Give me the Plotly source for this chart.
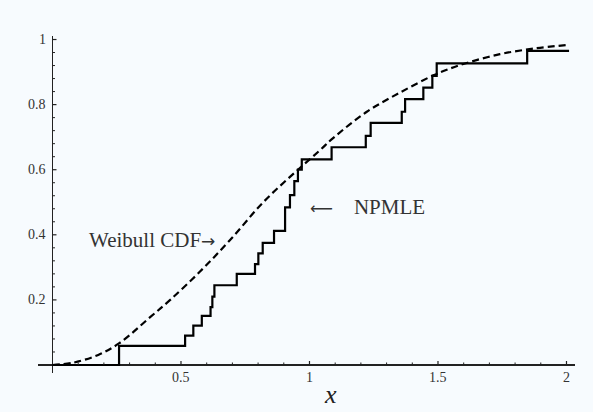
import plotly.graph_objects as go

# NPMLE step function: jump locations and level after each jump
npmle_x = [0.0, 0.259, 0.516, 0.548, 0.581, 0.615, 0.622, 0.630, 0.717, 0.788, 0.801,
           0.818, 0.862, 0.905, 0.924, 0.941, 0.955, 0.970, 1.086, 1.219, 1.238,
           1.359, 1.372, 1.443, 1.478, 1.495, 1.847, 2.01]
npmle_y = [0.0, 0.059, 0.090, 0.121, 0.151, 0.178, 0.210, 0.245, 0.280, 0.310, 0.343,
           0.375, 0.412, 0.484, 0.522, 0.565, 0.600, 0.632, 0.669, 0.704, 0.744,
           0.778, 0.817, 0.852, 0.888, 0.927, 0.965, 0.965]

# Weibull CDF
weib_x = [0.0, 0.08, 0.178, 0.26, 0.38, 0.458, 0.574, 0.691, 0.82, 0.955, 1.041,
          1.093, 1.223, 1.352, 1.482, 1.534, 1.612, 1.741, 1.871, 2.0]
weib_y = [0.0, 0.007, 0.031, 0.067, 0.147, 0.200, 0.287, 0.384, 0.50, 0.600, 0.660,
          0.698, 0.778, 0.837, 0.890, 0.907, 0.928, 0.955, 0.972, 0.983]

x_major = [0.5, 1, 1.5, 2]
x_major_labels = ["0.5", "1", "1.5", "2"]
x_minor = [0.1, 0.2, 0.3, 0.4, 0.6, 0.7, 0.8, 0.9, 1.1, 1.2, 1.3, 1.4,
           1.6, 1.7, 1.8, 1.9]
y_major = [0.2, 0.4, 0.6, 0.8, 1.0]
y_major_labels = ["0.2", "0.4", "0.6", "0.8", "1"]
y_minor = [0.04, 0.08, 0.12, 0.16, 0.24, 0.28, 0.32, 0.36, 0.44, 0.48, 0.52, 0.56,
           0.64, 0.68, 0.72, 0.76, 0.84, 0.88, 0.92, 0.96]

BG = "#f7fbfe"
AX = "#222222"
FONT = "Liberation Serif"

fig = go.Figure()
fig.add_trace(go.Scatter(x=weib_x, y=weib_y, mode="lines", line_shape="spline",
                         line=dict(color="black", width=2.2, dash="7px,4px"),
                         showlegend=False, hoverinfo="skip"))
fig.add_trace(go.Scatter(x=npmle_x, y=npmle_y, mode="lines", line_shape="hv",
                         line=dict(color="black", width=2.2),
                         showlegend=False, hoverinfo="skip"))

shapes = []
for tv in x_major:
    shapes.append(dict(type="line", xref="x", yref="y", x0=tv, x1=tv,
                       ysizemode="pixel", yanchor=0, y0=0, y1=4,
                       line=dict(color=AX, width=1.2)))
for tv in x_minor:
    shapes.append(dict(type="line", xref="x", yref="y", x0=tv, x1=tv,
                       ysizemode="pixel", yanchor=0, y0=0, y1=2.5,
                       line=dict(color=AX, width=1)))
for tv in y_major:
    shapes.append(dict(type="line", xref="x", yref="y", y0=tv, y1=tv,
                       xsizemode="pixel", xanchor=0, x0=0, x1=4,
                       line=dict(color=AX, width=1.2)))
for tv in y_minor:
    shapes.append(dict(type="line", xref="x", yref="y", y0=tv, y1=tv,
                       xsizemode="pixel", xanchor=0, x0=0, x1=2.5,
                       line=dict(color=AX, width=1)))

annotations = []
for tv, lab in zip(x_major, x_major_labels):
    annotations.append(dict(x=tv, y=0, xref="x", yref="y", text=lab, showarrow=False,
                            xanchor="center", yanchor="top", yshift=-3,
                            font=dict(family=FONT, size=14, color="#333")))
for tv, lab in zip(y_major, y_major_labels):
    annotations.append(dict(x=0, y=tv, xref="x", yref="y", text=lab, showarrow=False,
                            xanchor="right", yanchor="middle", xshift=-4,
                            font=dict(family=FONT, size=14, color="#333")))
annotations.append(dict(x=1.08, y=0, xref="x", yref="y", text="<i>x</i>", showarrow=False,
                        xanchor="center", yanchor="top", yshift=-13,
                        font=dict(family=FONT, size=26, color="#222")))
annotations.append(dict(x=0.64, y=0.384, xref="x", yref="y",
                        text="Weibull CDF<span style='font-family:DejaVu Sans;font-size:17px'>\u2192</span>",
                        showarrow=False, xanchor="right", yanchor="middle",
                        font=dict(family=FONT, size=21, color="#333")))
annotations.append(dict(x=0.995, y=0.485, xref="x", yref="y",
                        text="<span style='font-family:DejaVu Sans;font-size:16px'>\u27f5</span>&nbsp;&nbsp;&nbsp;&nbsp;NPMLE",
                        showarrow=False, xanchor="left", yanchor="middle",
                        font=dict(family=FONT, size=21, color="#333")))

fig.update_layout(
    width=593, height=412,
    margin=dict(l=38, r=18, t=36, b=39),
    paper_bgcolor=BG, plot_bgcolor=BG,
    hovermode=False,
    shapes=shapes, annotations=annotations,
    xaxis=dict(range=[-0.0564, 2.0331], showgrid=False, showticklabels=False,
               ticks="", showline=False, zeroline=True, zerolinecolor=AX,
               zerolinewidth=1.5, fixedrange=True),
    yaxis=dict(range=[-0.0246, 1.0108], showgrid=False, showticklabels=False,
               ticks="", showline=False, zeroline=True, zerolinecolor=AX,
               zerolinewidth=1.5, fixedrange=True),
)

fig.write_html("out.html", config={"displayModeBar": False, "staticPlot": True},
               post_script="document.body.style.margin='0';document.body.style.background='#f7fbfe';")
